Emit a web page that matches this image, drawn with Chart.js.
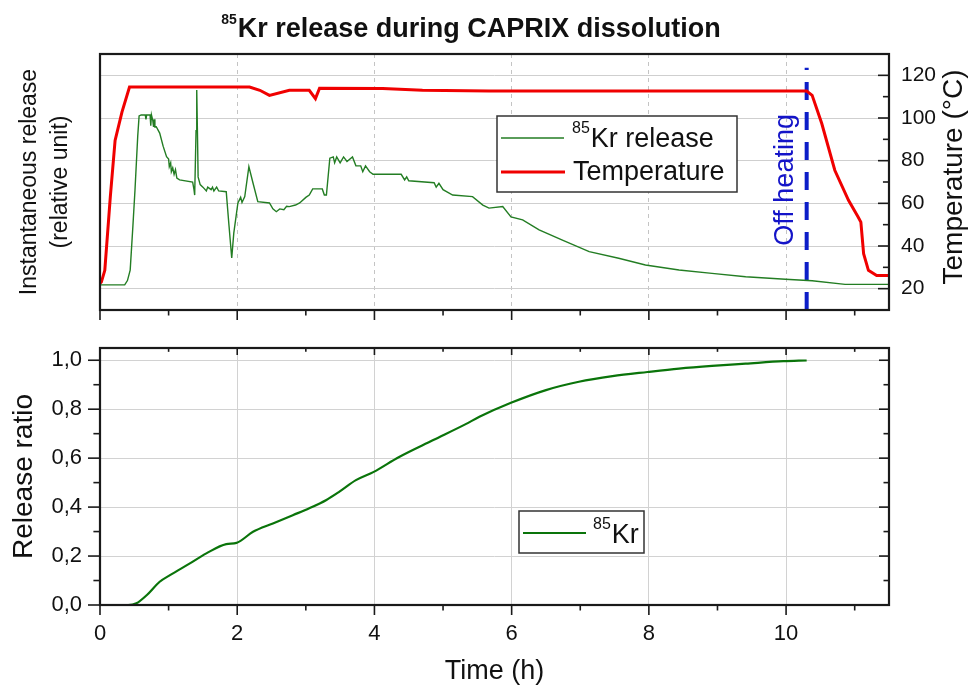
<!DOCTYPE html>
<html>
<head>
<meta charset="utf-8">
<title>85Kr release during CAPRIX dissolution</title>
<script src="https://cdn.jsdelivr.net/npm/chart.js@4.4.0/dist/chart.umd.min.js"></script>
<style>
  body { margin: 0; background: #fff; }
  .panel { position: absolute; left: 0; width: 970px; }
</style>
</head>
<body>
<div class="panel" style="top:0;height:330px"><canvas id="releaseChart" width="970" height="330"></canvas></div>
<div class="panel" style="top:330px;height:358px"><canvas id="ratioChart" width="970" height="358"></canvas></div>
<script>
/* =========================================
   Data
   ========================================= */
var timeTicks = [0, 2, 4, 6, 8, 10];
var tempTicks = [20, 40, 60, 80, 100, 120];
var ratioTicks = [0, 0.2, 0.4, 0.6, 0.8, 1.0];

// instantaneous 85Kr release (relative unit)
var krTime = [0.00, 0.36, 0.40, 0.44, 0.48, 0.51, 0.55, 0.57, 0.60, 0.66, 0.67, 0.68, 0.73, 0.74, 0.75, 0.77, 0.78, 0.79, 0.80, 0.82,
  0.87, 0.92, 0.97, 1.00, 1.01, 1.03, 1.04, 1.06, 1.08, 1.10, 1.12, 1.16, 1.35, 1.37, 1.38, 1.40, 1.41, 1.42, 1.43, 1.46,
  1.50, 1.55, 1.57, 1.62, 1.64, 1.66, 1.70, 1.73, 1.84, 1.88, 1.92, 1.95, 2.01, 2.05, 2.07, 2.11, 2.17, 2.23, 2.30, 2.47,
  2.52, 2.57, 2.62, 2.68, 2.72, 2.76, 2.85, 2.91, 3.00, 3.05, 3.10, 3.24, 3.27, 3.30, 3.35, 3.40, 3.42, 3.45, 3.50, 3.55,
  3.60, 3.68, 3.73, 3.80, 3.83, 3.87, 3.93, 3.98, 4.39, 4.44, 4.47, 4.50, 4.87, 4.90, 4.94, 5.00, 5.14, 5.43, 5.58, 5.67,
  5.87, 5.99, 6.16, 6.40, 6.74, 7.13, 7.56, 7.95, 8.44, 8.92, 9.41, 9.99, 10.38, 10.86, 11.50];
var krRelease = [0.098, 0.098, 0.115, 0.156, 0.330, 0.469, 0.680, 0.758, 0.762, 0.762, 0.745, 0.762, 0.762, 0.720, 0.762, 0.740, 0.715, 0.745, 0.715, 0.716,
  0.691, 0.640, 0.599, 0.590, 0.560, 0.575, 0.540, 0.555, 0.530, 0.548, 0.515, 0.508, 0.500, 0.470, 0.449, 0.700, 0.859, 0.700, 0.520, 0.490,
  0.480, 0.465, 0.480, 0.470, 0.480, 0.465, 0.480, 0.465, 0.462, 0.330, 0.203, 0.300, 0.418, 0.440, 0.420, 0.443, 0.560, 0.496, 0.423, 0.418,
  0.395, 0.384, 0.395, 0.392, 0.405, 0.404, 0.410, 0.418, 0.440, 0.449, 0.473, 0.473, 0.449, 0.449, 0.593, 0.598, 0.575, 0.598, 0.575, 0.598,
  0.580, 0.598, 0.563, 0.563, 0.540, 0.563, 0.540, 0.530, 0.530, 0.508, 0.520, 0.505, 0.497, 0.480, 0.495, 0.470, 0.449, 0.443, 0.410, 0.398,
  0.404, 0.364, 0.352, 0.313, 0.273, 0.228, 0.202, 0.176, 0.156, 0.143, 0.130, 0.120, 0.114, 0.100, 0.100];

// dissolver temperature (°C)
var tempTime = [0.00, 0.02, 0.07, 0.15, 0.22, 0.32, 0.43, 2.18, 2.33, 2.47, 2.76, 3.05, 3.14, 3.20, 4.12, 4.70, 5.67, 10.30,
  10.38, 10.52, 10.71, 10.91, 11.05, 11.09, 11.13, 11.20, 11.32, 11.50];
var temperature = [22.5, 23.1, 28.6, 62.9, 89.5, 102.8, 114.5, 114.5, 113.0, 110.6, 113.0, 113.0, 109.1, 114.0, 113.8, 113.0, 112.6, 112.6,
  110.6, 97.4, 75.5, 61.4, 53.6, 51.2, 36.4, 28.6, 26.2, 26.2];

// cumulative release ratio
var ratioTime = [0.00, 0.41, 0.53, 0.68, 0.87, 1.02, 1.31, 1.55, 1.84, 1.99, 2.23, 2.52, 2.81, 3.05, 3.30, 3.49, 3.73, 3.99,
  4.36, 4.85, 5.33, 5.53, 5.99, 6.50, 6.98, 7.47, 7.98, 8.44, 8.92, 9.41, 9.96, 10.30];
var releaseRatio = [0.000, 0.000, 0.007, 0.040, 0.095, 0.122, 0.170, 0.211, 0.249, 0.254, 0.299, 0.333, 0.367, 0.395, 0.429, 0.463, 0.510, 0.544,
  0.605, 0.673, 0.739, 0.769, 0.826, 0.878, 0.912, 0.935, 0.952, 0.966, 0.977, 0.986, 0.996, 0.999];

var offHeatingTime = 10.3;

/* ========================================= */
var FAMILY = '"Liberation Sans", Arial, Helvetica, sans-serif';
Chart.defaults.font.family = FAMILY;
Chart.defaults.color = '#111';

function toPoints(xs, ys) {
    return xs.map(function(x, i) { return { x: x, y: ys[i] }; });
}
function fixedTicks(list) {
    return function(scale) { scale.ticks = list.map(function(v) { return { value: v }; }); };
}

// text with a superscript prefix, returns total width
function drawSup(ctx, x, y, sup, text, supSize, size, weight, rise) {
    ctx.font = weight + ' ' + supSize + 'px ' + FAMILY;
    ctx.fillText(sup, x, y - rise);
    var w = ctx.measureText(sup).width + 1;
    ctx.font = weight + ' ' + size + 'px ' + FAMILY;
    ctx.fillText(text, x + w, y);
    return w + ctx.measureText(text).width;
}
function supWidth(ctx, sup, text, supSize, size, weight) {
    ctx.font = weight + ' ' + supSize + 'px ' + FAMILY;
    var w = ctx.measureText(sup).width + 1;
    ctx.font = weight + ' ' + size + 'px ' + FAMILY;
    return w + ctx.measureText(text).width;
}

// frame + Origin-style tick marks
var frameTicks = {
    id: 'frameTicks',
    afterDraw: function(chart, args, opts) {
        var ctx = chart.ctx, a = chart.chartArea;
        ctx.save();
        ctx.strokeStyle = '#1a1a1a';
        ctx.lineWidth = 1.6;
        (opts.marks || []).forEach(function(m) {
            var sc = chart.scales[m.scale];
            for (var v = m.from; v <= m.to + 1e-9; v += m.step) {
                var isMajor = Math.abs(v / m.major - Math.round(v / m.major)) < 1e-6;
                var len = isMajor ? m.len : m.len * 0.55;
                var p = sc.getPixelForValue(v);
                var sgn = m.out ? 1 : -1;
                ctx.beginPath();
                if (m.side === 'bottom') { ctx.moveTo(p, a.bottom); ctx.lineTo(p, a.bottom + sgn * len); }
                if (m.side === 'top') { ctx.moveTo(p, a.top); ctx.lineTo(p, a.top - sgn * len); }
                if (m.side === 'left') { ctx.moveTo(a.left, p); ctx.lineTo(a.left - sgn * len, p); }
                if (m.side === 'right') { ctx.moveTo(a.right, p); ctx.lineTo(a.right + sgn * len, p); }
                ctx.stroke();
            }
        });
        ctx.lineWidth = 2.2;
        ctx.strokeRect(a.left, a.top, a.right - a.left, a.bottom - a.top);
        ctx.restore();
    }
};

/* =========================================
   Instantaneous release + temperature
   ========================================= */
var topDecor = {
    id: 'topDecor',
    afterDraw: function(chart) {
        var ctx = chart.ctx;
        ctx.save();
        ctx.fillStyle = '#111';
        ctx.textAlign = 'left';
        ctx.textBaseline = 'alphabetic';

        // title
        var tw = supWidth(ctx, '85', 'Kr release during CAPRIX dissolution', 14, 27, 'bold');
        drawSup(ctx, 471 - tw / 2, 37, '85', 'Kr release during CAPRIX dissolution', 14, 27, 'bold', 13);

        // right axis title, reading upwards
        ctx.save();
        ctx.translate(962, 177);
        ctx.rotate(-Math.PI / 2);
        ctx.textAlign = 'center';
        ctx.font = '28px ' + FAMILY;
        ctx.fillText('Temperature (°C)', 0, 0);
        ctx.restore();

        // "Off heating" label next to the dashed line
        var xs = chart.scales.x, ys = chart.scales.yT;
        ctx.save();
        ctx.translate(xs.getPixelForValue(offHeatingTime) - 14, ys.getPixelForValue(71));
        ctx.rotate(-Math.PI / 2);
        ctx.textAlign = 'center';
        ctx.fillStyle = '#1414c8';
        ctx.font = '27px ' + FAMILY;
        ctx.fillText('Off heating', 0, 0);
        ctx.restore();

        // legend
        ctx.fillStyle = '#fff';
        ctx.fillRect(497, 116, 240, 76);
        ctx.strokeStyle = '#333';
        ctx.lineWidth = 1.5;
        ctx.strokeRect(497, 116, 240, 76);
        ctx.lineWidth = 1.4;
        ctx.strokeStyle = '#237d23';
        ctx.beginPath(); ctx.moveTo(501, 138); ctx.lineTo(564, 138); ctx.stroke();
        ctx.lineWidth = 3;
        ctx.strokeStyle = '#f00000';
        ctx.beginPath(); ctx.moveTo(501, 172); ctx.lineTo(565, 172); ctx.stroke();
        ctx.fillStyle = '#111';
        drawSup(ctx, 572, 147, '85', 'Kr release', 16, 27, 'normal', 14);
        ctx.font = '27px ' + FAMILY;
        ctx.fillText('Temperature', 573, 180);
        ctx.restore();
    }
};

var releaseCtx = document.getElementById('releaseChart').getContext('2d');
var releaseChart = new Chart(releaseCtx, {
    type: 'line',
    data: {
        datasets: [{
            label: '85Kr release',
            data: toPoints(krTime, krRelease),
            yAxisID: 'yRel',
            borderColor: '#237d23',
            borderWidth: 1.4,
            pointRadius: 0,
            tension: 0
        }, {
            label: 'Temperature',
            data: toPoints(tempTime, temperature),
            yAxisID: 'yT',
            borderColor: '#f00000',
            borderWidth: 3,
            pointRadius: 0,
            tension: 0
        }, {
            label: 'Off heating',
            data: [{ x: offHeatingTime, y: 10 }, { x: offHeatingTime, y: 123.5 }],
            yAxisID: 'yT',
            borderColor: '#0c1ec8',
            borderWidth: 4,
            borderDash: [18, 12],
            pointRadius: 0
        }]
    },
    options: {
        responsive: false,
        animation: false,
        layout: { padding: { top: 54, left: 0, right: 0, bottom: 0 } },
        plugins: {
            legend: { display: false },
            tooltip: { enabled: false },
            frameTicks: {
                marks: [
                    { scale: 'x', side: 'bottom', from: 0, to: 11, step: 1, major: 2, len: 10, out: true },
                    { scale: 'yT', side: 'right', from: 20, to: 120, step: 10, major: 20, len: 11, out: false }
                ]
            }
        },
        scales: {
            x: {
                type: 'linear', min: 0, max: 11.5,
                afterBuildTicks: fixedTicks(timeTicks),
                afterFit: function(s) { s.height = 20; },
                ticks: { display: false },
                grid: { color: '#c4c4c4', drawTicks: false },
                border: { display: false, dash: [4, 4] }
            },
            yRel: {
                type: 'linear', position: 'left', min: 0, max: 1,
                afterFit: function(s) { s.width = 100; },
                ticks: { display: false },
                grid: { drawOnChartArea: false, drawTicks: false },
                border: { display: false },
                title: {
                    display: true,
                    text: ['Instantaneous release', '(relative unit)'],
                    font: { size: 23, lineHeight: 1.35 },
                    padding: { top: 14, bottom: 0 },
                    color: '#111'
                }
            },
            yT: {
                type: 'linear', position: 'right', min: 10, max: 130,
                afterBuildTicks: fixedTicks(tempTicks),
                afterFit: function(s) { s.width = 81; },
                ticks: { font: { size: 21 }, padding: 3, color: '#111' },
                grid: { color: '#cfcfcf', drawTicks: true, tickLength: 9, tickColor: 'rgba(0,0,0,0)' },
                border: { display: false }
            }
        }
    },
    plugins: [frameTicks, topDecor]
});

/* =========================================
   Cumulative release ratio
   ========================================= */
var bottomDecor = {
    id: 'bottomDecor',
    afterDraw: function(chart) {
        var ctx = chart.ctx;
        ctx.save();
        ctx.fillStyle = '#fff';
        ctx.fillRect(519, 181, 125, 42);
        ctx.strokeStyle = '#333';
        ctx.lineWidth = 1.5;
        ctx.strokeRect(519, 181, 125, 42);
        ctx.strokeStyle = '#0a740a';
        ctx.lineWidth = 2;
        ctx.beginPath(); ctx.moveTo(523, 203); ctx.lineTo(586, 203); ctx.stroke();
        ctx.fillStyle = '#111';
        ctx.textBaseline = 'alphabetic';
        drawSup(ctx, 593, 213, '85', 'Kr', 16, 27, 'normal', 14);
        ctx.restore();
    }
};

var ratioCtx = document.getElementById('ratioChart').getContext('2d');
var ratioChart = new Chart(ratioCtx, {
    type: 'line',
    data: {
        datasets: [{
            label: '85Kr',
            data: toPoints(ratioTime, releaseRatio),
            borderColor: '#0a740a',
            borderWidth: 2.2,
            pointRadius: 0,
            cubicInterpolationMode: 'monotone'
        }]
    },
    options: {
        responsive: false,
        animation: false,
        layout: { padding: { top: 18, left: 0, right: 81, bottom: 0 } },
        plugins: {
            legend: { display: false },
            tooltip: { enabled: false },
            frameTicks: {
                marks: [
                    { scale: 'x', side: 'bottom', from: 0, to: 11, step: 1, major: 2, len: 10, out: true },
                    { scale: 'x', side: 'top', from: 0, to: 11, step: 1, major: 2, len: 7, out: false },
                    { scale: 'y', side: 'left', from: 0, to: 1, step: 0.1, major: 0.2, len: 12, out: true },
                    { scale: 'y', side: 'right', from: 0, to: 1, step: 0.1, major: 0.2, len: 10, out: false }
                ]
            }
        },
        scales: {
            x: {
                type: 'linear', min: 0, max: 11.5,
                afterBuildTicks: fixedTicks(timeTicks),
                afterFit: function(s) { s.height = 83; },
                ticks: { font: { size: 22 }, padding: 16, maxRotation: 0, color: '#111' },
                grid: { color: '#d2d2d2', drawTicks: false },
                border: { display: false },
                title: {
                    display: true,
                    text: 'Time (h)',
                    font: { size: 27, lineHeight: 1.2 },
                    padding: { top: 0, bottom: 0 },
                    color: '#111'
                }
            },
            y: {
                type: 'linear', min: 0, max: 1.05,
                afterBuildTicks: fixedTicks(ratioTicks),
                afterFit: function(s) { s.width = 100; },
                ticks: {
                    font: { size: 22 }, padding: 3, color: '#111',
                    callback: function(v) { return v.toFixed(1).replace('.', ','); }
                },
                grid: { color: '#d2d2d2', drawTicks: true, tickLength: 15, tickColor: 'rgba(0,0,0,0)' },
                border: { display: false },
                title: {
                    display: true,
                    text: 'Release ratio',
                    font: { size: 28, lineHeight: 1.2 },
                    padding: { top: 7, bottom: 0 },
                    color: '#111'
                }
            }
        }
    },
    plugins: [frameTicks, bottomDecor]
});
</script>
</body>
</html>
